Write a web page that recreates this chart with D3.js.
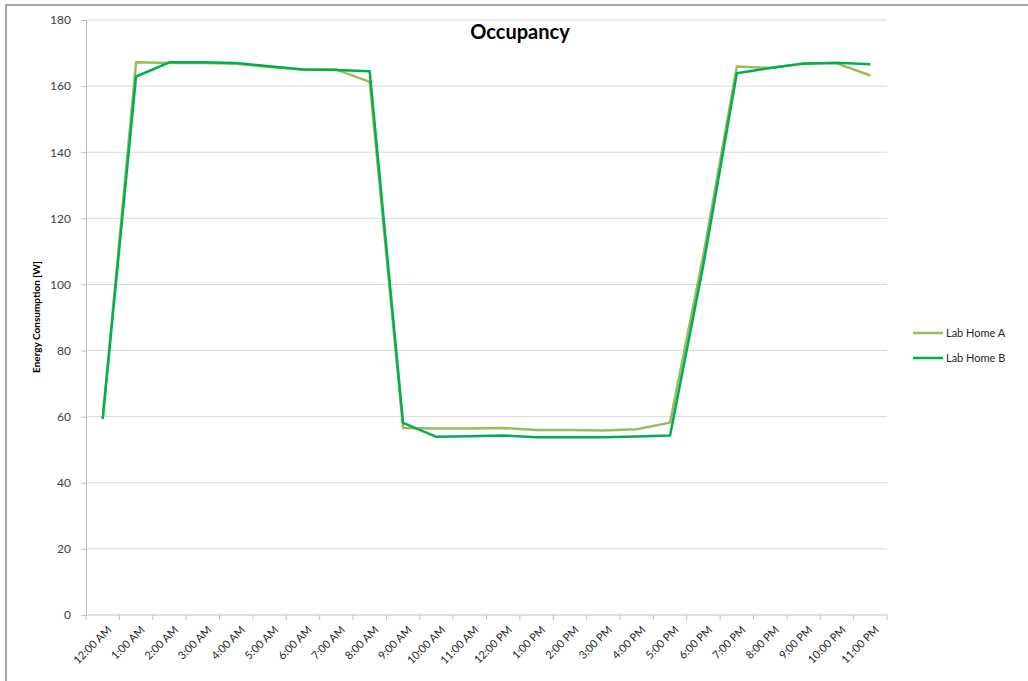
<html>
<head>
  <meta charset="utf-8">
  <title>Occupancy</title>
  <style>
    body { margin: 0; background: #fff; }
    text { font-family: Lato, "Open Sans", sans-serif; }
  </style>
</head>
<body>
  <script src="https://d3js.org/d3.v7.min.js"></script>
  <script>
    // hourly categories
    var hours = ["12:00 AM", "1:00 AM", "2:00 AM", "3:00 AM", "4:00 AM", "5:00 AM", "6:00 AM", "7:00 AM",
      "8:00 AM", "9:00 AM", "10:00 AM", "11:00 AM", "12:00 PM", "1:00 PM", "2:00 PM", "3:00 PM",
      "4:00 PM", "5:00 PM", "6:00 PM", "7:00 PM", "8:00 PM", "9:00 PM", "10:00 PM", "11:00 PM"]
    var labHomeA = [59.3, 167.2, 167, 167, 166.8, 165.8, 165, 165, 161.3, 56.6, 56.4, 56.4,
      56.6, 56, 56, 55.8, 56.2, 58.2, 109, 165.9, 165.5, 166.9, 166.9, 163.2]
    var labHomeB = [59.3, 162.9, 167.2, 167.2, 167, 166, 165, 164.9, 164.5, 58.1, 53.9, 54.1,
      54.3, 53.8, 53.8, 53.8, 54, 54.3, 106, 163.9, 165.5, 166.8, 167.1, 166.6]
    var yTicks = [0, 20, 40, 60, 80, 100, 120, 140, 160, 180]
    var seriesNames = ["Lab Home A", "Lab Home B"]
    var seriesColors = ["#9bbb59", "#00b050"]

    var width = 1028, height = 681
    // plot area (window.top is reserved, so no "top" here)
    var plotL = 86, plotR = 887, plotT = 20, plotB = 615

    var svg = d3.select("body").append("svg")
      .attr("width", width)
      .attr("height", height)

    // outer frame
    svg.append("rect")
      .attr("x", 6).attr("y", 5)
      .attr("width", width + 20).attr("height", height + 20)
      .attr("fill", "none")
      .attr("stroke", "#a6a6a6")
      .attr("stroke-width", 2)

    var x = d3.scaleBand().domain(hours).range([plotL, plotR])
    var y = d3.scaleLinear().domain([0, 180]).range([plotB, plotT])

    // gridlines
    svg.append("g").selectAll("line")
      .data(yTicks.filter(d => d > 0))
      .enter().append("line")
      .attr("x1", plotL).attr("x2", plotR)
      .attr("y1", d => y(d)).attr("y2", d => y(d))
      .attr("stroke", "#d9d9d9")
      .attr("stroke-width", 1)

    // y axis
    var yAxis = svg.append("g")
      .attr("transform", `translate(${plotL},0)`)
      .call(d3.axisLeft(y).tickValues(yTicks).tickSize(5).tickPadding(10))
    yAxis.select(".domain").attr("stroke", "#bfbfbf")
    yAxis.selectAll(".tick line").attr("stroke", "#bfbfbf")
    yAxis.selectAll(".tick text")
      .attr("fill", "#404040")
      .style("font-size", "12px")
      .style("font-family", "Lato, sans-serif")

    // x axis, ticks at category boundaries
    var xAxis = svg.append("g")
      .attr("transform", `translate(0,${plotB})`)
    xAxis.append("line")
      .attr("x1", plotL).attr("x2", plotR)
      .attr("stroke", "#bfbfbf")
    xAxis.selectAll(".tk")
      .data(hours.concat(["end"]))
      .enter().append("line")
      .attr("class", "tk")
      .attr("x1", (d, i) => i < hours.length ? x(d) : plotR)
      .attr("x2", (d, i) => i < hours.length ? x(d) : plotR)
      .attr("y1", 0).attr("y2", 5)
      .attr("stroke", "#bfbfbf")
    xAxis.selectAll("text")
      .data(hours)
      .enter().append("text")
      .attr("transform", d => `translate(${x(d) + x.bandwidth() / 2 + 4},${10}) rotate(-45)`)
      .attr("text-anchor", "end")
      .attr("dy", "0.7em")
      .attr("fill", "#262626")
      .style("font-size", "11px")
      .text(d => d)

    // lines
    var line = d3.line()
      .x((d, i) => x(hours[i]) + x.bandwidth() / 2)
      .y(d => y(d))
    var allSeries = [labHomeA, labHomeB]
    svg.append("g").selectAll("path")
      .data(allSeries)
      .enter().append("path")
      .attr("d", d => line(d))
      .attr("fill", "none")
      .attr("stroke", (d, i) => seriesColors[i])
      .attr("stroke-width", 2.5)
      .attr("stroke-linejoin", "round")

    // title
    svg.append("text")
      .text("Occupancy")
      .attr("x", 520).attr("y", 39)
      .attr("text-anchor", "middle")
      .attr("font-size", "20px")
      .attr("font-weight", "bold")
      .attr("fill", "#000")

    // y axis title
    svg.append("text")
      .text("Energy Consumption [W]")
      .attr("transform", "translate(40,317) rotate(-90)")
      .attr("text-anchor", "middle")
      .attr("font-size", "10px")
      .attr("font-weight", "bold")
      .attr("fill", "#000")

    // legend
    var legend = svg.append("g").selectAll("g")
      .data(seriesNames)
      .enter().append("g")
      .attr("transform", (d, i) => `translate(913,${333 + i * 25})`)
    legend.append("line")
      .attr("x1", 0).attr("x2", 30)
      .attr("stroke", (d, i) => seriesColors[i])
      .attr("stroke-width", 2.5)
    legend.append("text")
      .attr("x", 33).attr("dy", "0.35em")
      .attr("font-size", "11px")
      .attr("fill", "#262626")
      .text(d => d)
  </script>
</body>
</html>
